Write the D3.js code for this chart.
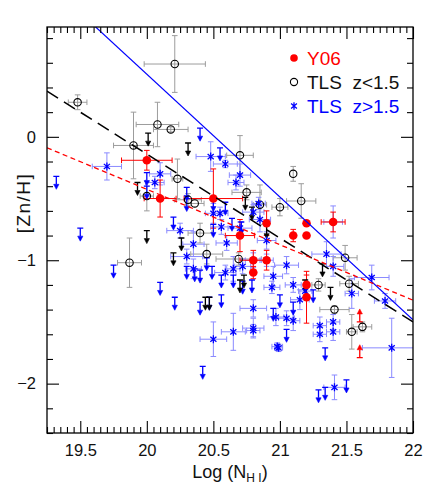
<!DOCTYPE html>
<html>
<head>
<meta charset="utf-8">
<script src="https://cdn.jsdelivr.net/npm/d3@7"></script>
<style>
  body { margin: 0; background: #fff; }
  text { font-family: "Liberation Sans", Arial, sans-serif; }
</style>
</head>
<body>
<svg id="chart" width="436" height="485"></svg>
<script>
// [log N(HI), [Zn/H], x error, y error]
const y06 = [
  [20.00, -0.19, 0.19, 0.08], [20.10, -0.50, 0.12, 0.15], [20.50, -0.50, 0.22, 0.24],
  [20.70, -0.80, 0.11, 0.13], [20.80, -1.00, 0.10, 0.08], [20.80, -1.10, 0.00, 0.05],
  [20.90, -0.70, 0.00, 0.10], [20.90, -1.00, 0.00, 0.08], [21.10, -0.80, 0.00, 0.05],
  [21.20, -0.70, 0.00, 0.00], [21.20, -0.80, 0.00, 0.00], [21.20, -1.20, 0.00, 0.08],
  [21.20, -1.30, 0.00, 0.21], [21.40, -0.69, 0.09, 0.08]
];
const y06Lower = [[21.60, -1.50], [21.60, -1.79]];

const tlsLow = [
  [19.48, 0.28, 0.07, 0.06], [20.21, 0.59, 0.23, 0.23], [20.08, 0.10, 0.16, 0.18],
  [20.18, 0.06, 0.13, 0.02], [19.90, -0.07, 0.15, 0.27], [20.23, -0.34, 0.04, 0.16],
  [20.00, -0.48, 0.05, 0.12], [20.31, -0.51, 0.10, 0.05], [20.36, -0.54, 0.07, 0.00],
  [20.40, -0.78, 0.09, 0.08], [19.87, -1.02, 0.09, 0.20], [20.45, -0.95, 0.12, 0.08],
  [20.69, -0.99, 0.17, 0.05], [20.70, -0.15, 0.10, 0.16], [20.75, -0.45, 0.11, 0.06],
  [20.85, -0.55, 0.05, 0.16], [21.00, -0.57, 0.06, 0.07], [21.10, -0.30, 0.00, 0.06],
  [21.16, -0.52, 0.11, 0.14], [21.49, -0.98, 0.09, 0.10], [21.29, -1.20, 0.05, 0.05],
  [21.52, -1.19, 0.07, 0.06], [21.41, -1.40, 0.11, 0.03], [21.54, -1.58, 0.04, 0.14],
  [21.62, -1.54, 0.07, 0.04]
];
const tlsLowUpper = [
  [20.01, 0.03], [20.31, -0.05], [19.93, -0.37], [20.00, -0.76], [20.20, -0.94],
  [20.26, -0.82], [20.44, -1.30], [20.47, -1.30], [20.74, -0.49], [20.79, -0.57],
  [20.90, -0.72], [20.70, -1.16], [20.73, -1.12], [21.32, -1.03], [21.38, -1.22],
  [21.19, -1.16]
];

const tlsHigh = [
  [19.70, -0.24, 0.11, 0.11], [20.48, -0.16, 0.11, 0.12], [20.10, -0.30, 0.08, 0.09],
  [20.06, -0.37, 0.07, 0.05], [20.59, -0.22, 0.09, 0.03], [20.70, -0.31, 0.08, 0.09],
  [20.67, -0.37, 0.06, 0.06], [20.50, -0.62, 0.06, 0.08], [20.55, -0.62, 0.06, 0.05],
  [20.56, -0.73, 0.08, 0.06], [20.84, -0.54, 0.05, 0.05], [20.80, -0.61, 0.08, 0.06],
  [20.85, -0.67, 0.08, 0.10], [20.70, -0.74, 0.09, 0.05], [20.25, -0.76, 0.10, 0.06],
  [20.35, -0.87, 0.08, 0.10], [20.30, -0.97, 0.12, 0.06], [20.35, -1.07, 0.06, 0.08],
  [20.60, -0.86, 0.08, 0.06], [20.59, -1.10, 0.08, 0.06], [20.65, -1.07, 0.05, 0.10],
  [20.72, -1.05, 0.06, 0.06], [20.80, -1.00, 0.06, 0.06], [20.90, -1.00, 0.05, 0.05],
  [20.90, -0.84, 0.07, 0.07], [21.05, -1.04, 0.09, 0.07], [20.95, -1.13, 0.07, 0.08],
  [20.94, -1.22, 0.06, 0.05], [21.10, -1.20, 0.06, 0.06], [21.15, -1.32, 0.07, 0.08],
  [21.19, -1.25, 0.05, 0.05], [21.35, -0.95, 0.11, 0.10], [21.40, -1.05, 0.08, 0.08],
  [21.40, -0.69, 0.07, 0.13], [21.69, -1.14, 0.13, 0.10], [21.79, -1.33, 0.08, 0.06],
  [21.54, -1.27, 0.05, 0.12], [20.80, -1.39, 0.10, 0.07], [20.80, -1.55, 0.08, 0.08],
  [20.80, -1.57, 0.05, 0.05], [20.65, -1.58, 0.09, 0.15], [20.50, -1.64, 0.10, 0.14],
  [20.97, -1.46, 0.06, 0.07], [21.05, -1.47, 0.06, 0.06], [21.10, -1.49, 0.05, 0.08],
  [20.98, -1.70, 0.04, 0.03], [20.99, -1.71, 0.03, 0.03], [21.30, -1.53, 0.05, 0.07],
  [21.30, -1.60, 0.05, 0.06], [21.40, -1.50, 0.05, 0.06], [21.40, -1.58, 0.05, 0.07],
  [21.84, -1.71, 0.22, 0.24], [21.41, -2.03, 0.08, 0.10]
];
const tlsHighUpper = [
  [19.32, -0.32], [19.50, -0.74], [19.75, -1.04], [20.00, -0.29], [20.00, -0.40],
  [20.40, 0.07], [20.55, -0.09], [20.20, -0.65], [20.30, -0.41], [20.30, -0.50],
  [20.50, -0.50], [20.59, -0.53], [20.64, -0.66], [20.71, -0.69], [20.50, -0.71],
  [20.10, -1.18], [20.21, -1.30], [20.30, -1.05], [20.36, -1.07], [20.40, -1.08],
  [20.45, -0.98], [20.49, -1.05], [20.40, -1.34], [20.47, -1.30], [20.56, -1.28],
  [20.56, -1.12], [20.65, -1.12], [20.72, -1.17], [20.79, -1.16], [20.42, -1.86],
  [21.00, -1.28], [20.95, -1.39], [21.05, -1.56], [21.10, -1.34], [21.25, -1.24],
  [21.34, -1.71], [21.29, -2.05], [21.34, -2.03], [21.50, -1.97]
];

// linear fits: [value at pivot, slope]
const fitPivot = 20.5;
const fitTLSHigh = [0.01, -0.995];
const fitTLSLow = [-0.48, -0.68];
const fitY06 = [-0.65, -0.449];

const xMajor = [19.5, 20, 20.5, 21, 21.5, 22];
const yMajor = [-2, -1, 0];

const width = 436, height = 485;
const margin = { top: 27, right: 23, bottom: 52, left: 47 };
const xDomain = [19.25, 22];
const yDomain = [-2.4, 0.89];

const x = d3.scaleLinear().domain(xDomain).range([margin.left, width - margin.right]);
const y = d3.scaleLinear().domain(yDomain).range([height - margin.bottom, margin.top]);

const svg = d3.select("#chart");
svg.append("defs").append("clipPath").attr("id", "plot")
  .append("rect")
  .attr("x", margin.left).attr("y", margin.top)
  .attr("width", width - margin.left - margin.right)
  .attr("height", height - margin.top - margin.bottom);

const xMinor = d3.range(19.25, 22.001, 0.05).map(v => +v.toFixed(2)).filter(v => !xMajor.includes(v));
const yMinor = d3.range(-2.4, 0.81, 0.2).map(v => +v.toFixed(1)).filter(v => !yMajor.includes(v));
const fmt = d3.format("~g");

function axes(g) {
  const bottom = height - margin.bottom, right = width - margin.right;
  g.append("g").attr("transform", `translate(0,${bottom})`)
    .call(d3.axisBottom(x).tickValues(xMinor).tickSize(-6).tickFormat(""));
  g.append("g").attr("transform", `translate(0,${bottom})`)
    .call(d3.axisBottom(x).tickValues(xMajor).tickSize(-12).tickPadding(11).tickFormat(fmt));
  g.append("g").attr("transform", `translate(0,${margin.top})`)
    .call(d3.axisTop(x).tickValues(xMinor).tickSize(-6).tickFormat(""));
  g.append("g").attr("transform", `translate(0,${margin.top})`)
    .call(d3.axisTop(x).tickValues(xMajor).tickSize(-12).tickFormat(""));
  g.append("g").attr("transform", `translate(${margin.left},0)`)
    .call(d3.axisLeft(y).tickValues(yMinor).tickSize(-6).tickFormat(""));
  g.append("g").attr("transform", `translate(${margin.left},0)`)
    .call(d3.axisLeft(y).tickValues(yMajor).tickSize(-12).tickPadding(11).tickFormat(fmt));
  g.append("g").attr("transform", `translate(${right},0)`)
    .call(d3.axisRight(y).tickValues(yMinor).tickSize(-6).tickFormat(""));
  g.append("g").attr("transform", `translate(${right},0)`)
    .call(d3.axisRight(y).tickValues(yMajor).tickSize(-12).tickFormat(""));
  g.selectAll(".domain").remove();
  g.selectAll(".tick line").attr("stroke", "#000").attr("stroke-width", 1.1);
  g.selectAll(".tick text").attr("font-size", 16.5).attr("fill", "#111")
    .attr("font-family", "Liberation Sans, Arial, sans-serif");
}

const plot = svg.append("g").attr("clip-path", "url(#plot)");

function errorBars(data, color) {
  const g = plot.append("g").attr("stroke", color).attr("stroke-width", 1).attr("fill", "none");
  const cap = 2.8;
  data.forEach(([vx, vy, ex, ey]) => {
    const cx = x(vx), cy = y(vy);
    let d = "";
    if (ex > 0) {
      const x0 = x(vx - ex), x1 = x(vx + ex);
      d += `M${x0},${cy}H${x1}M${x0},${cy - cap}V${cy + cap}M${x1},${cy - cap}V${cy + cap}`;
    }
    if (ey > 0) {
      const y0 = y(vy + ey), y1 = y(vy - ey);
      d += `M${cx},${y0}V${y1}M${cx - cap},${y0}H${cx + cap}M${cx - cap},${y1}H${cx + cap}`;
    }
    if (d) g.append("path").attr("d", d);
  });
}

function limits(data, color, dir) {
  // dir = 1 : upper limit (arrow down), -1 : lower limit (arrow up)
  const g = plot.append("g");
  data.forEach(([vx, vy]) => {
    const cx = x(vx), cy = y(vy);
    const len = 13 * dir, head = 5 * dir;
    g.append("path")
      .attr("d", `M${cx - 3},${cy}H${cx + 3}M${cx},${cy}V${cy + len - head}`)
      .attr("stroke", color).attr("stroke-width", 1.3).attr("fill", "none");
    g.append("path")
      .attr("d", `M${cx - 2.6},${cy + len - head}L${cx + 2.6},${cy + len - head}L${cx},${cy + len}Z`)
      .attr("fill", color).attr("stroke", color).attr("stroke-width", 0.6);
  });
}

function asterisk(cx, cy, r) {
  let d = "";
  [90, 40, -40].forEach(a => {
    const dx = r * Math.cos(a * Math.PI / 180), dy = r * Math.sin(a * Math.PI / 180);
    d += `M${cx - dx},${cy - dy}L${cx + dx},${cy + dy}`;
  });
  return d;
}

errorBars(tlsLow, "#9c9c9c");
errorBars(tlsHigh, "#8a8aff");
errorBars(y06, "#ff0000");

// fit lines
const lineX = xDomain;
function fitLine(fit, color, dash, w) {
  plot.append("path")
    .datum(lineX)
    .attr("d", d3.line().x(v => x(v)).y(v => y(fit[0] + fit[1] * (v - fitPivot))))
    .attr("stroke", color).attr("stroke-width", w).attr("fill", "none")
    .attr("stroke-dasharray", dash);
}

limits(tlsHighUpper, "#0000ff", 1);
limits(tlsLowUpper, "#000000", 1);
limits(y06Lower, "#ff0000", -1);

plot.append("g").selectAll("circle").data(tlsLow).join("circle")
  .attr("cx", d => x(d[0])).attr("cy", d => y(d[1])).attr("r", 3.7)
  .attr("fill", "none").attr("stroke", "#000").attr("stroke-width", 1.1);

plot.append("g").selectAll("path").data(tlsHigh).join("path")
  .attr("d", d => asterisk(x(d[0]), y(d[1]), 4))
  .attr("stroke", "#0000ff").attr("stroke-width", 1.3).attr("fill", "none");

plot.append("g").selectAll("circle").data(y06).join("circle")
  .attr("cx", d => x(d[0])).attr("cy", d => y(d[1])).attr("r", 4.3)
  .attr("fill", "#ff0000");

fitLine(fitTLSHigh, "#0000ff", null, 1.2);
fitLine(fitTLSLow, "#000000", "13,7", 1.5);
fitLine(fitY06, "#ff0000", "5,3.5", 1.3);

// frame and axes
svg.append("rect")
  .attr("x", margin.left).attr("y", margin.top)
  .attr("width", width - margin.left - margin.right)
  .attr("height", height - margin.top - margin.bottom)
  .attr("fill", "none").attr("stroke", "#000").attr("stroke-width", 1.3);
svg.append("g").call(axes);

// axis titles
svg.append("text")
  .attr("transform", "translate(30,203) rotate(-90)")
  .attr("text-anchor", "middle").attr("font-size", 19).attr("letter-spacing", 1.5)
  .attr("fill", "#111")
  .text("[Zn/H]");

const xt = svg.append("text").attr("x", 230).attr("y", 478)
  .attr("text-anchor", "middle").attr("font-size", 18).attr("fill", "#111");
xt.append("tspan").text("Log (N");
xt.append("tspan").attr("font-size", 12).attr("dy", 4).text("H I");
xt.append("tspan").attr("dy", -4).text(")");

// legend
const legend = svg.append("g").attr("font-size", 19);
legend.append("circle").attr("cx", 294).attr("cy", 58).attr("r", 3.8).attr("fill", "#ff0000");
legend.append("text").attr("x", 307).attr("y", 65).attr("fill", "#ff0000").text("Y06");
legend.append("circle").attr("cx", 294).attr("cy", 82).attr("r", 3.6)
  .attr("fill", "none").attr("stroke", "#000").attr("stroke-width", 1.1);
legend.append("text").attr("x", 307).attr("y", 89).attr("fill", "#111")
  .attr("xml:space", "preserve").style("white-space", "pre").text("TLS  z<1.5");
legend.append("path").attr("d", asterisk(294, 106, 3.8))
  .attr("stroke", "#0000ff").attr("stroke-width", 1.3).attr("fill", "none");
legend.append("text").attr("x", 307).attr("y", 113).attr("fill", "#0000ff")
  .attr("xml:space", "preserve").style("white-space", "pre").text("TLS  z>1.5");
</script>
</body>
</html>
